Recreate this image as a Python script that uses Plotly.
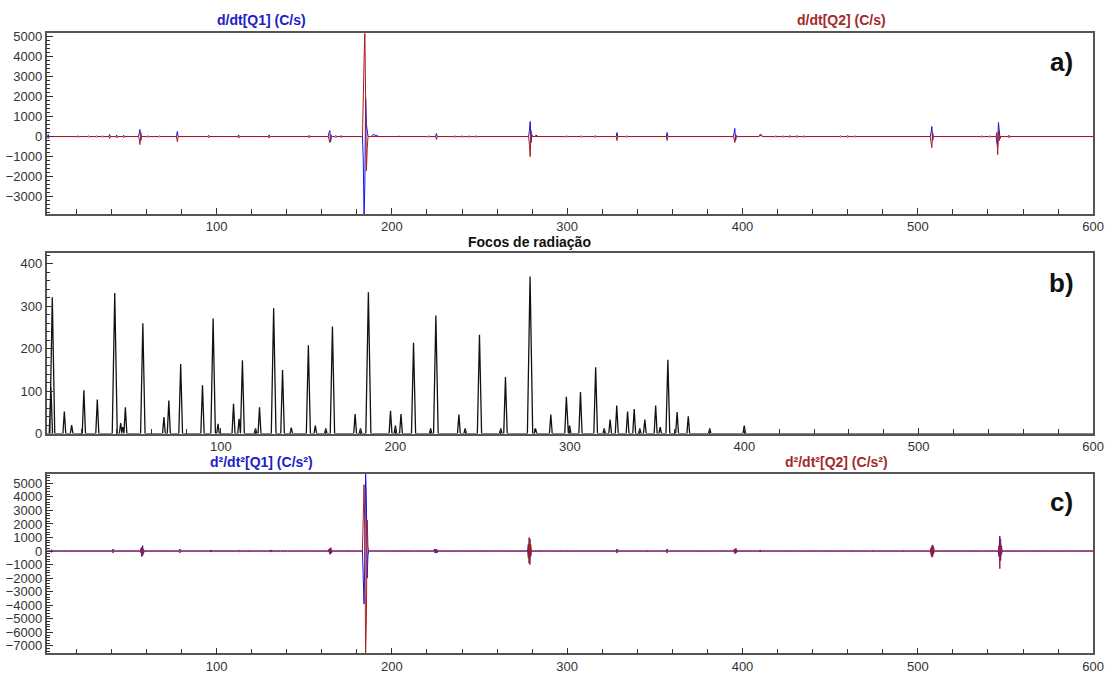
import plotly.graph_objects as go

# ---------------- DATA ----------------
# Panel a) first derivative events: centre x, Q1 values and Q2 values (C/s)
A_CENTERS = [56.3, 164.6, 184.8, 190.5, 278.9, 282.5, 395.6, 410.5, 508.0, 546.0]
A_Q1 = [
    [0, 0, 150, 350, -200, 0, 0],
    [0, 0, 200, 300, -250, 0, 0],
    [0, -1200, -3950, -2400, 1900, 600, 200, 0],
    [0, 100, 100, 90, 80, 70, 60, 50, 40, 20, 0],
    [0, 0, 300, 750, -300, 100, 0],
    [0, 60, 60, 40, 0],
    [0, 0, 150, 400, -200, 0, 0],
    [0, 40, 60, 40, 20, 0],
    [0, 0, 200, 500, -200, 0, 0],
    [0, -300, -500, 700, 200, -100, 0],
]
A_Q2 = [
    [0, 0, -100, -400, 200, 0, 0],
    [0, 0, -150, -300, 100, 0, 0],
    [0, 1300, 3800, 5300, 2000, -1700, -600, 0],
    [0, 0, 0, 0, 0, 0, 0, 0, 0, 0, 0],
    [0, 0, -400, -1000, 300, 0, 0],
    [0, 0, 0, 0, 0],
    [0, 0, -100, -300, 100, 0, 0],
    [0, 100, 130, 80, 30, 0],
    [0, 0, -300, -550, 200, 0, 0],
    [0, 200, -900, 300, -200, 0, 0],
]
# small diamond-shaped events (centre, amplitude)
A_SMALL_X = [4, 21, 27, 31.5, 35, 39, 43, 47, 61, 67.5, 77.6, 95.5, 112.6, 130, 152.8,
             168, 171, 204, 208, 212, 221, 225.4, 236, 240, 244, 248, 293, 299.6, 308,
             316, 328.4, 334, 357, 365, 374.7, 419, 423, 427, 431, 435, 456, 460, 464,
             476, 482, 488.5, 492, 536.5, 541, 552, 559.5, 571, 596]
A_SMALL_AMP = [100, 40, 40, 40, 40, 100, 70, 60, 40, 40, 250, 60, 80, 80, 60,
               50, 50, 30, 30, 30, 40, 150, 40, 40, 40, 40, 30, 40, 40,
               50, 200, 40, 200, 30, 30, 40, 40, 50, 50, 40, 40, 50, 40,
               20, 20, 20, 20, 40, 40, 60, 20, 20, 20]

# Panel b) radiation foci peaks
B_PEAK_X = [2.5, 3.3, 10.2, 14.4, 21.4, 29.1, 39.1, 42.5, 43.7, 45.2, 55.2, 67.3, 70.1,
            76.9, 89.4, 95.5, 98.3, 107.2, 110.4, 112.3, 119.8, 122.1, 130.2, 135.3,
            140.3, 150.1, 154.1, 160.1, 163.9, 176.9, 180.0, 184.5, 197.2, 200.0,
            203.2, 210.4, 220.2, 223.2, 236.4, 240.0, 248.2, 260.4, 263.1, 277.2,
            280.3, 289.1, 298.0, 299.9, 306.1, 314.8, 319.7, 323.1, 326.9, 333.1,
            336.9, 340.1, 343.0, 349.2, 351.8, 356.2, 361.5, 367.9, 380.2, 400.0]
B_PEAK_H = [110, 321, 52, 20, 102, 80, 331, 25, 15, 62, 260, 39, 78,
            164, 114, 271, 23, 70, 35, 173, 12, 62, 295, 150,
            14, 208, 19, 12, 252, 46, 12, 333, 54, 19,
            46, 214, 12, 278, 45, 12, 233, 12, 133, 370,
            12, 45, 87, 19, 98, 156, 12, 33, 66, 52,
            58, 12, 33, 66, 15, 174, 51, 41, 12, 19]

# Panel c) second derivative events (C/s^2)
C_CENTERS = [57.6, 164.9, 185.0, 225.0, 278.5, 396.0, 508.3, 547.0]
C_Q1 = [
    [0, 200, -400, 400, -200, 0],
    [0, 150, -250, 250, -150, 0],
    [0, -2800, -3900, -800, 5800, 3800, -2000, -300, 0],
    [0, 150, -150, 150, -150, 0],
    [0, 500, -900, 900, -400, 0],
    [0, 150, -200, 200, -100, 0],
    [0, 250, -450, 450, -200, 0],
    [0, -400, 1100, -700, 400, 0],
]
C_Q2 = [
    [0, -150, 300, -350, 150, 0],
    [0, -100, 200, -200, 100, 0],
    [0, 3000, 4900, 1500, -7600, -5000, 2300, 300, 0],
    [0, -100, 100, -100, 100, 0],
    [0, -500, 1000, -1000, 500, 0],
    [0, -100, 150, -150, 100, 0],
    [0, -300, 400, -400, 300, 0],
    [0, 400, -1300, 900, -300, 0],
]
C_SMALL_X = [5.8, 9, 13, 17, 21, 25, 29, 33, 37, 41, 46, 50, 64, 70, 79, 84, 88, 92,
             96.8, 102, 106, 113, 118, 124, 131, 136, 140, 146, 153, 170, 176, 190,
             194, 198, 204, 208, 214, 232, 238, 246, 252, 258, 262, 284, 290, 300,
             306, 312, 318, 322, 328.4, 340, 346, 352, 357, 362, 368, 372, 378, 384,
             390, 402, 410, 416, 420, 426, 432, 438, 444, 450, 456, 462, 468, 474,
             480, 486, 492, 498, 516, 520, 526, 532, 538, 556, 562, 568, 574, 586,
             590, 596]
C_SMALL_AMP = [100, 60, 60, 60, 60, 60, 60, 60, 60, 150, 60, 60, 60, 60, 150, 60, 60, 60,
               80, 60, 60, 80, 60, 60, 80, 60, 60, 60, 60, 60, 60, 60,
               60, 60, 60, 60, 60, 60, 60, 60, 60, 60, 60, 60, 60, 60,
               60, 60, 60, 60, 150, 60, 60, 60, 150, 60, 60, 60, 60, 60,
               60, 60, 80, 60, 60, 60, 60, 60, 60, 60, 60, 60, 60, 60,
               60, 60, 60, 60, 60, 60, 60, 60, 60, 60, 60, 60, 60, 60,
               60, 60]

X_TICKS = [100, 200, 300, 400, 500, 600]
TITLE_A = ["d/dt[Q1] (C/s)", "d/dt[Q2] (C/s)"]
TITLE_B = "Focos de radiação"
TITLE_C = ["d²/dt²[Q1] (C/s²)", "d²/dt²[Q2] (C/s²)"]

# ---------------- BUILD ----------------
BLUE = "#1414e6"
RED = "#a81c1c"
STEP = 0.45


def build(centers, vals, small_x, small_amp, sign, x0, x1):
    events = []
    for c, v in zip(centers, vals):
        events.append((c, v))
    for c, a in zip(small_x, small_amp):
        events.append((c, [0, sign * a, 0]))
    events.sort(key=lambda e: e[0])
    xs, ys = [x0], [0]
    for c, v in events:
        n = len(v)
        for i, val in enumerate(v):
            xs.append(c + STEP * (i - (n - 1) / 2))
            ys.append(val)
    xs.append(x1)
    ys.append(0)
    return xs, ys


def peaks(px, ph, x0, x1):
    pts = sorted(zip(px, ph))
    xs, ys = [x0], [0]
    for x, h in pts:
        hw = 0.7 + h / 450.0
        xs += [x - hw, x, x + hw]
        ys += [0, h, 0]
    xs.append(x1)
    ys.append(0)
    return xs, ys


fig = go.Figure()

a1x, a1y = build(A_CENTERS, A_Q1, A_SMALL_X, A_SMALL_AMP, 1, 3, 600)
a2x, a2y = build(A_CENTERS, A_Q2, A_SMALL_X, A_SMALL_AMP, -1, 3, 600)
fig.add_trace(go.Scatter(x=a1x, y=a1y, mode="lines", line=dict(color=BLUE, width=1), xaxis="x", yaxis="y"))
fig.add_trace(go.Scatter(x=a2x, y=a2y, mode="lines", line=dict(color=RED, width=1), xaxis="x", yaxis="y"))

bx, by = peaks(B_PEAK_X, B_PEAK_H, 0, 600)
fig.add_trace(go.Scatter(x=bx, y=by, mode="lines", line=dict(color="#111111", width=1.3), xaxis="x2", yaxis="y2"))

c1x, c1y = build(C_CENTERS, C_Q1, C_SMALL_X, C_SMALL_AMP, 1, 3, 600)
c2x, c2y = build(C_CENTERS, C_Q2, C_SMALL_X, C_SMALL_AMP, -1, 3, 600)
fig.add_trace(go.Scatter(x=c1x, y=c1y, mode="lines", line=dict(color=BLUE, width=1), xaxis="x3", yaxis="y3"))
fig.add_trace(go.Scatter(x=c2x, y=c2y, mode="lines", line=dict(color=RED, width=1), xaxis="x3", yaxis="y3"))

# the page body margin is removed (post_script below), so figure px == page px
W, H = 1117, 677


def px(x):
    return x / W


def py(y):
    return 1 - y / H


XD = [px(47), px(1104)]
DOMS = {
    "a": [py(213), py(29)],
    "b": [py(437), py(253)],
    "c": [py(661), py(478)],
}
FONT = dict(family="Arial, Liberation Sans, sans-serif", size=13, color="#333333")
LINEC = "#555555"


def xaxis(anchor, rng):
    return dict(domain=XD, anchor=anchor, range=rng, tickvals=X_TICKS, ticks="inside",
                ticklen=6, tickcolor="#333", showline=True, linecolor=LINEC, linewidth=1.5,
                mirror=True, showgrid=False, zeroline=False, tickfont=FONT,
                minor=dict(dtick=20, tick0=0, ticks="inside", ticklen=5, tickcolor="#333"))


def yaxis(anchor, dom, rng, dtick, mdtick):
    return dict(domain=dom, anchor=anchor, range=rng, dtick=dtick, ticks="inside",
                ticklen=7, tickcolor="#333", showline=True, linecolor=LINEC, linewidth=1.5,
                mirror=True, showgrid=False, zeroline=False, tickfont=FONT,
                minor=dict(dtick=mdtick, ticks="inside", ticklen=4, tickcolor="#333"))


RA = [-3850, 5130]
RB = [0, 425]
RC = [-7550, 5700]

fig.update_layout(
    width=W, height=H, margin=dict(l=0, r=0, t=0, b=0),
    paper_bgcolor="white", plot_bgcolor="white", showlegend=False,
    xaxis=xaxis("y", [3, 600]),
    yaxis=yaxis("x", DOMS["a"], RA, 1000, 200),
    xaxis2=xaxis("y2", [0, 600]),
    yaxis2=yaxis("x2", DOMS["b"], RB, 100, 20),
    xaxis3=xaxis("y3", [3, 600]),
    yaxis3=yaxis("x3", DOMS["c"], RC, 1000, 200),
)

ann = []
TFONT = dict(family="Arial, Liberation Sans, sans-serif", size=14)
LFONT = dict(family="Arial, Liberation Sans, sans-serif", size=26, color="#111")


def add_text(txt, xp, yp, font, bold=True):
    ann.append(dict(text=("<b>%s</b>" % txt) if bold else txt, x=px(xp), y=py(yp),
                    xref="paper", yref="paper", showarrow=False, font=font,
                    xanchor="center", yanchor="middle"))


add_text(TITLE_A[0], 264, 15, dict(TFONT, color="#2020c8"))
add_text(TITLE_A[1], 850, 15, dict(TFONT, color="#a32a2a"))
add_text(TITLE_B, 535, 242, dict(TFONT, color="#111"))
add_text(TITLE_C[0], 264, 466, dict(TFONT, color="#2020c8"))
add_text(TITLE_C[1], 845, 466, dict(TFONT, color="#a32a2a"))
add_text("a)", 1072, 58, LFONT)
add_text("b)", 1072, 283, LFONT)
add_text("c)", 1072, 507, LFONT)
fig.update_layout(annotations=ann)

fig.write_html("out.html", config={"displayModeBar": False},
               post_script="document.body.style.margin='0';document.body.style.overflow='hidden';")
